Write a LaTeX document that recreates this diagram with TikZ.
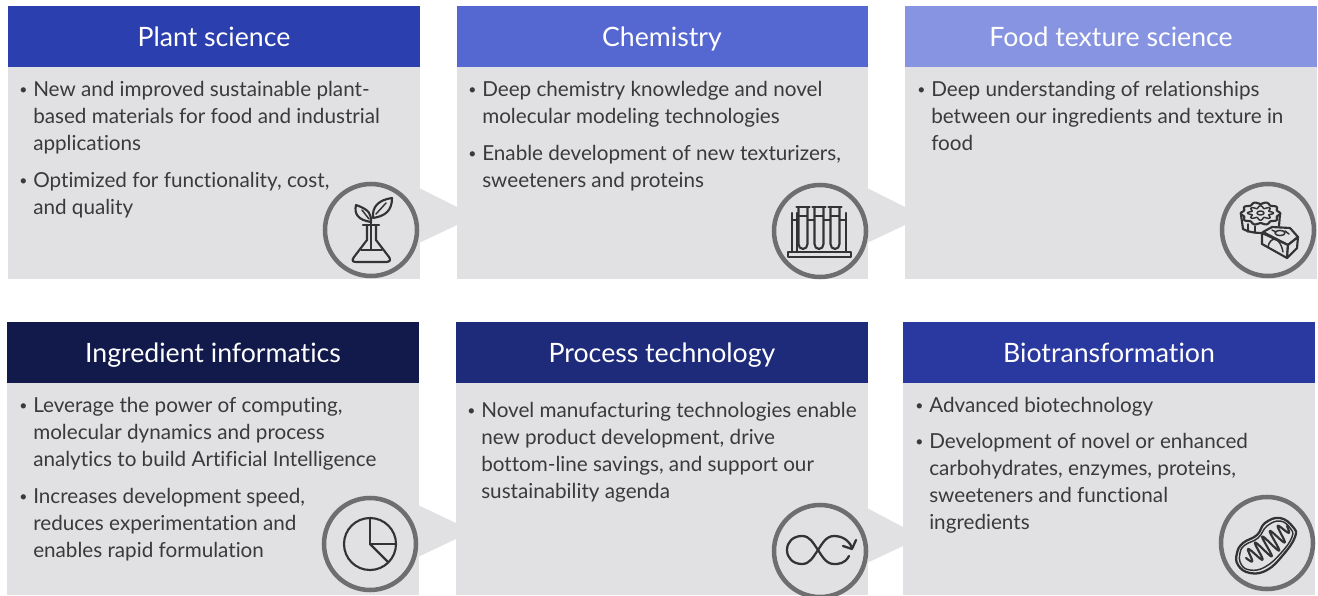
\documentclass[tikz,border=0pt]{standalone}
\usepackage{fontspec}
\setmainfont[Ligatures=NoCommon]{Lato}
\definecolor{panelgray}{HTML}{E1E1E3}
\definecolor{ringgray}{HTML}{6E6E70}
\definecolor{inkgray}{HTML}{333335}
\definecolor{textgray}{HTML}{3A3A3C}
\definecolor{hA}{HTML}{2C3FAE}
\definecolor{hB}{HTML}{5567D1}
\definecolor{hC}{HTML}{8794E2}
\definecolor{hD}{HTML}{12194B}
\definecolor{hE}{HTML}{1E2B7A}
\definecolor{hF}{HTML}{2A399F}
\tikzset{
  ring/.style={draw=ringgray,line width=3.4pt,fill=panelgray},
  head/.style={text=white,font=\fontsize{20}{24}\selectfont,inner sep=0pt,anchor=base},
  bodytext/.style={text=textgray,font=\fontsize{15.5}{20.25}\selectfont,inner sep=0pt,anchor=base west,align=left},
  dotmark/.style={text=textgray,font=\fontsize{10.5}{12}\selectfont,inner sep=0pt,anchor=base west},
  icon/.style={draw=inkgray,line width=1.6pt,line join=round,line cap=round,fill=none},
  iconthin/.style={draw=inkgray,line width=1.1pt,line join=round,line cap=round,fill=none}
}
\newcommand{\bulletblock}[6]{% name, bullet x, text x, first baseline y, extra lines, text
  \node[dotmark] (#1b) at (#2,#4-2) {•};
  \node[bodytext] (#1t) at (#3,#4+27*#5) {#6};
}
\begin{document}
\begin{tikzpicture}[x=0.75pt,y=-0.75pt]
\useasboundingbox (0,0) rectangle (1318,596);
% panels
\fill[panelgray] (8,67) rectangle (420,279);
\fill[panelgray] (457,67) rectangle (868,279);
\fill[panelgray] (905,67) rectangle (1317,279);
\fill[panelgray] (7,383) rectangle (419,595);
\fill[panelgray] (456,383) rectangle (868,595);
\fill[panelgray] (903,383) rectangle (1315,595);
% headers
\fill[hA] (8,6) rectangle (420,67);
\fill[hB] (457,6) rectangle (868,67);
\fill[hC] (905,6) rectangle (1317,67);
\fill[hD] (7,322) rectangle (419,383);
\fill[hE] (456,322) rectangle (868,383);
\fill[hF] (903,322) rectangle (1315,383);
\node[head] (h1) at (214,46) {Plant science};
\node[head] (h2) at (662,46) {Chemistry};
\node[head] (h3) at (1111,46) {Food texture science};
\node[head] (h4) at (213,362) {Ingredient informatics};
\node[head] (h5) at (662,362) {Process technology};
\node[head] (h6) at (1109,362) {Biotransformation};
% chevrons
\fill[panelgray] (419,188) -- (457,207) -- (457,225) -- (419,243) -- cycle;
\fill[panelgray] (867,188) -- (905,207) -- (905,225) -- (867,243) -- cycle;
\fill[panelgray] (418,505) -- (456,523) -- (456,539) -- (418,557) -- cycle;
\fill[panelgray] (867,508) -- (903,527) -- (903,546) -- (867,563) -- cycle;
% texts
\bulletblock{a1}{19}{33}{96}{2}{New and improved sustainable plant-\\based materials for food and industrial\\applications}
\bulletblock{a2}{19}{33}{187}{1}{Optimized for functionality, cost,\\and quality}
\bulletblock{b1}{468}{482}{96}{1}{Deep chemistry knowledge and novel\\molecular modeling technologies}
\bulletblock{b2}{468}{482}{160}{1}{Enable development of new texturizers,\\sweeteners and proteins}
\bulletblock{c1}{917}{931}{96}{2}{Deep understanding of relationships\\between our ingredients and texture in\\food}
\bulletblock{d1}{19}{33}{412}{2}{Leverage the power of computing,\\molecular dynamics and process\\analytics to build Artificial Intelligence}
\bulletblock{d2}{19}{33}{503}{2}{Increases development speed,\\reduces experimentation and\\enables rapid formulation}
\bulletblock{e1}{467}{481}{417}{3}{Novel manufacturing technologies enable\\new product development, drive\\bottom-line savings, and support our\\sustainability agenda}
\bulletblock{f1}{915}{929}{412}{0}{Advanced biotechnology}
\bulletblock{f2}{915}{929}{448}{3}{Development of novel or enhanced\\carbohydrates, enzymes, proteins,\\sweeteners and functional\\ingredients}
% rings
\draw[ring] (371,230) circle (46);
\draw[ring] (820,231) circle (46);
\draw[ring] (1268,230) circle (46);
\draw[ring] (370,544) circle (46);
\draw[ring] (820,551) circle (46);
\draw[ring] (1267,543) circle (46);
% plant icon
\draw[icon] (363,225) -- (379,225);
\draw[icon] (367,225) -- (367,240) -- (354,257) .. controls (351,261) and (353,262) .. (357,262) -- (386,262) .. controls (390,262) and (391,260) .. (389,257) -- (376,240) -- (376,225);
\draw[iconthin] (361,250) -- (382,250);
\draw[icon] (371,250) -- (371,222);
\draw[icon] (371,222) .. controls (371,214) and (370,210) .. (356,205) .. controls (354,214) and (358,220) .. (371,222);
\draw[icon] (373,218) .. controls (372,207) and (378,200) .. (392,198) .. controls (392,210) and (386,216) .. (373,218);
\draw[iconthin] (362,210) -- (369,219);
\draw[iconthin] (386,203) -- (376,214);
% test tubes icon
\draw[icon] (788,252) rectangle (851,257);
\draw[icon] (792,252) -- (792,213) (797,252) -- (797,213) (846,252) -- (846,213);
\draw[icon] (792,220) -- (846,220);
\foreach \cx in {803,819,835}{
  \fill[panelgray] (\cx-4.5,207) rectangle (\cx+4.5,246);
  \draw[icon] (\cx-4.5,207) -- (\cx-4.5,244) arc[start angle=180,end angle=0,x radius=4.5,y radius=5] -- (\cx+4.5,207);
  \draw[icon] (\cx-6.5,207) -- (\cx+6.5,207);
  \draw[iconthin] (\cx-4.5,216) -- (\cx+4.5,216);
}
% mooncake icon
\draw[icon] (1241,215) -- (1243,229) .. controls (1248,232) and (1255,233) .. (1262,233);
\draw[icon] (1280,214) -- (1279,226);
\draw[iconthin] (1248,224) -- (1248,232) (1255,226) -- (1255,233);
\draw[icon,fill=panelgray] plot[domain=0:360,samples=121,smooth] ({1260.5+(18.5+1.3*cos(10*\x))*cos(\x)},{213.5+(10.5+0.9*cos(10*\x))*sin(\x)}) -- cycle;
\draw[iconthin] plot[domain=0:360,samples=121,smooth] ({1260.5+(11+2*cos(8*\x))*cos(\x)},{213+(6+1.2*cos(8*\x))*sin(\x)}) -- cycle;
\draw[iconthin] (1260.5,213) circle[x radius=3.5,y radius=2];
\draw[icon,fill=panelgray] (1263,232) -- (1272,227) -- (1290,228) -- (1298,237) -- (1288,245) -- cycle;
\draw[icon,fill=panelgray] (1262,233) -- (1262,244) -- (1287,258) -- (1288,245) -- cycle;
\draw[icon,fill=panelgray] (1287,258) -- (1297,248) -- (1298,237) -- (1288,245) -- cycle;
\draw[iconthin] (1268,247) .. controls (1270,236) and (1280,236) .. (1283,252);
\draw[iconthin] (1280,233) circle[x radius=5,y radius=2.6];
\draw[iconthin] (1272,230) -- (1276,232) (1285,231) -- (1289,234);
% pie icon
\draw[icon] (370,544) circle (26);
\draw[icon] (370,518) -- (370,544) -- (396,544);
\draw[icon] (370,544) -- (388,562);
% infinity icon
\draw[icon,line width=1.7pt] (849,556) .. controls (845,564) and (838,564) .. (834,564) .. controls (826,564) and (822,556) .. (818,550) .. controls (813,543) and (810,536) .. (802,536) .. controls (793,536) and (787,542) .. (787,550) .. controls (787,558) and (793,564) .. (802,564) .. controls (810,564) and (813,557) .. (818,550) .. controls (822,544) and (826,536) .. (834,536) .. controls (842,536) and (849,540) .. (852,548);
\draw[icon,line width=1.7pt] (843,546) -- (852,549) -- (856,540);
% mitochondrion icon
\draw[icon,line width=1.7pt] plot[smooth cycle,tension=0.75] coordinates {(1237,553) (1243,543) (1257,535) (1265,523) (1280,518) (1293,527) (1295,537) (1283,555) (1267,570) (1250,573) (1238,565)};
\draw[iconthin] plot[smooth cycle,tension=0.75] coordinates {(1240,553) (1245,545) (1258,538) (1267,526) (1280,521) (1290,528) (1292,537) (1281,553) (1265,567) (1250,570) (1241,564)};
\draw[icon] plot[domain=0:1,samples=110,smooth] ({1246+41*\x+0.615*(4*sin(180*\x)+(5+6*sin(180*\x))*sin(360*5.5*\x))},{558-32*\x+0.79*(4*sin(180*\x)+(5+6*sin(180*\x))*sin(360*5.5*\x))});
\end{tikzpicture}
\end{document}
